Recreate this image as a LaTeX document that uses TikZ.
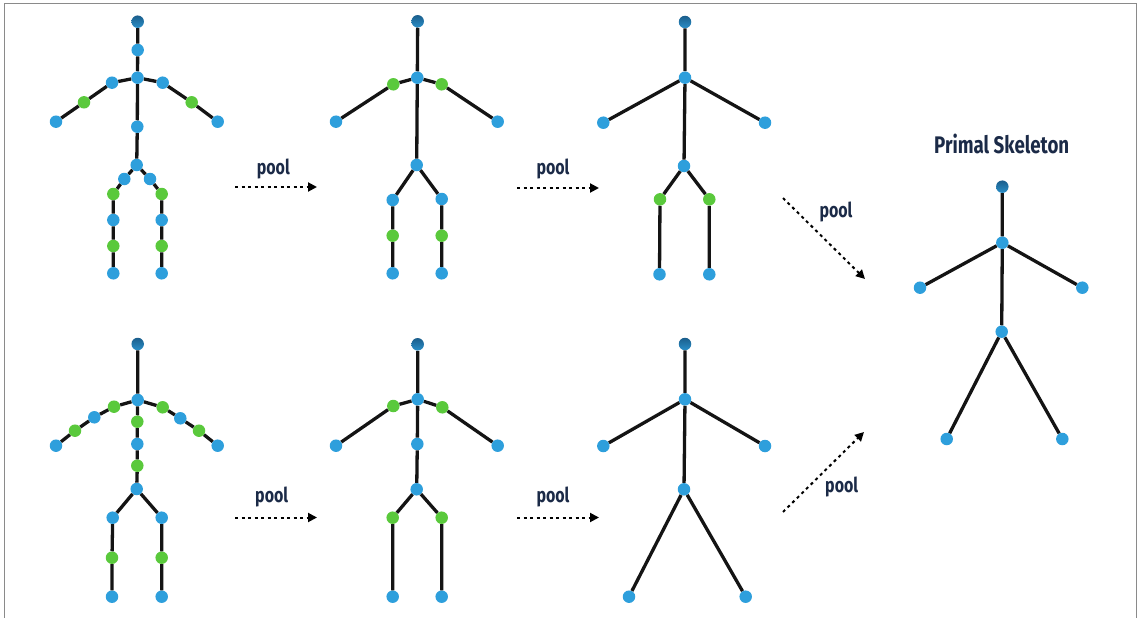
\documentclass[tikz,border=0pt]{standalone}
\usepackage{fontspec}
\usetikzlibrary{arrows.meta}
\newfontfamily\labelfont[FakeStretch=0.78]{Fira Sans}
\definecolor{jointblue}{HTML}{2E9FDC}
\definecolor{jointgreen}{HTML}{5AC93C}
\definecolor{headtop}{HTML}{1B5E8C}
\definecolor{headbot}{HTML}{2A8FC8}
\definecolor{labelnavy}{HTML}{1B2A47}
\definecolor{framegray}{HTML}{8A8A8A}
\tikzset{
  joint/.style={circle, inner sep=0pt, minimum size=12.5pt},
  bj/.style={joint, fill=jointblue},
  gj/.style={joint, fill=jointgreen},
  hj/.style={joint, top color=headtop, bottom color=headbot},
  bone/.style={line width=3.3pt, draw=black!92},
  poolarrow/.style={line width=2pt, dash pattern=on 3pt off 3.5pt, -{Triangle[length=9pt,width=9pt]}},
  poollabel/.style={font=\labelfont\bfseries\fontsize{20.5}{22}\selectfont, text=labelnavy, inner sep=0pt},
}
\newcommand\jnt[4]{\node[#1] (#2) at (#3,#4) {};}
\begin{document}
\begin{tikzpicture}[x=1pt,y=-1pt]
\useasboundingbox (0,0) rectangle (1141,618);
\draw[framegray, line width=1.5pt] (4.5,620) -- (4.5,3.5) -- (1136.5,3.5) -- (1136.5,620);

% ---- skeleton A: full skeleton, top row
\jnt{hj}{A-head}{137.7}{21.7}
\jnt{bj}{A-neck}{137.7}{50}
\jnt{bj}{A-chest}{137.5}{77.7}
\jnt{bj}{A-ls}{112}{82.7}
\jnt{gj}{A-le}{84}{102.3}
\jnt{bj}{A-lh}{56}{121.7}
\jnt{bj}{A-rs}{162.7}{82.7}
\jnt{gj}{A-re}{191.7}{102.3}
\jnt{bj}{A-rh}{217.7}{121.7}
\jnt{bj}{A-sp}{137.3}{126.7}
\jnt{bj}{A-pv}{136.7}{165}
\jnt{bj}{A-lhp}{124.3}{179}
\jnt{gj}{A-lg1}{113.3}{194}
\jnt{bj}{A-lk}{113.3}{220}
\jnt{gj}{A-lg2}{113.3}{246}
\jnt{bj}{A-lf}{113.3}{273.3}
\jnt{bj}{A-rhp}{150}{179}
\jnt{gj}{A-rg1}{161.7}{194}
\jnt{bj}{A-rk}{161.7}{220}
\jnt{gj}{A-rg2}{161.7}{246}
\jnt{bj}{A-rf}{161.7}{273.3}
\draw[bone] (A-head) -- (A-neck) -- (A-chest) -- (A-sp) -- (A-pv);
\draw[bone] (A-chest) -- (A-ls) -- (A-le) -- (A-lh);
\draw[bone] (A-chest) -- (A-rs) -- (A-re) -- (A-rh);
\draw[bone] (A-pv) -- (A-lhp) -- (A-lg1) -- (A-lk) -- (A-lg2) -- (A-lf);
\draw[bone] (A-pv) -- (A-rhp) -- (A-rg1) -- (A-rk) -- (A-rg2) -- (A-rf);

% ---- skeleton B: full skeleton, bottom row
\jnt{hj}{B-head}{137.7}{344}
\jnt{bj}{B-chest}{137.7}{400}
\jnt{gj}{B-lg1}{114}{406.7}
\jnt{bj}{B-lb}{94.3}{417.3}
\jnt{gj}{B-lg2}{75}{430.7}
\jnt{bj}{B-lh}{56}{445.7}
\jnt{gj}{B-rg1}{162.7}{407.3}
\jnt{bj}{B-rb}{180.3}{418.3}
\jnt{gj}{B-rg2}{199}{430.7}
\jnt{bj}{B-rh}{217.7}{445.7}
\jnt{gj}{B-sg1}{137.3}{421.7}
\jnt{bj}{B-sb}{137.3}{444}
\jnt{gj}{B-sg2}{137.3}{465.7}
\jnt{bj}{B-pv}{136.7}{489}
\jnt{bj}{B-lhp}{112.7}{517.7}
\jnt{gj}{B-lkg}{112}{557.7}
\jnt{bj}{B-lf}{112}{596.7}
\jnt{bj}{B-rhp}{161.7}{517.7}
\jnt{gj}{B-rkg}{161.7}{557.7}
\jnt{bj}{B-rf}{161.7}{596.7}
\draw[bone] (B-head) -- (B-chest) -- (B-sg1) -- (B-sb) -- (B-sg2) -- (B-pv);
\draw[bone] (B-chest) -- (B-lg1) -- (B-lb) -- (B-lg2) -- (B-lh);
\draw[bone] (B-chest) -- (B-rg1) -- (B-rb) -- (B-rg2) -- (B-rh);
\draw[bone] (B-pv) -- (B-lhp) -- (B-lkg) -- (B-lf);
\draw[bone] (B-pv) -- (B-rhp) -- (B-rkg) -- (B-rf);

% ---- skeleton C: after first pooling, top row
\jnt{hj}{C-head}{417.7}{21.3}
\jnt{bj}{C-chest}{417.3}{77.7}
\jnt{gj}{C-lg}{393.3}{84.3}
\jnt{bj}{C-lh}{336}{121.7}
\jnt{gj}{C-rg}{441.7}{84.3}
\jnt{bj}{C-rh}{497.7}{121.7}
\jnt{bj}{C-pv}{416.7}{165}
\jnt{bj}{C-lhp}{392.7}{200}
\jnt{gj}{C-lkg}{392.7}{235.7}
\jnt{bj}{C-lf}{392.7}{273.3}
\jnt{bj}{C-rhp}{441.7}{199}
\jnt{gj}{C-rkg}{441.7}{235.7}
\jnt{bj}{C-rf}{441.7}{273.3}
\draw[bone] (C-head) -- (C-chest) -- (C-pv);
\draw[bone] (C-chest) -- (C-lg) -- (C-lh);
\draw[bone] (C-chest) -- (C-rg) -- (C-rh);
\draw[bone] (C-pv) -- (C-lhp) -- (C-lkg) -- (C-lf);
\draw[bone] (C-pv) -- (C-rhp) -- (C-rkg) -- (C-rf);

% ---- skeleton D: after first pooling, bottom row
\jnt{hj}{D-head}{417.7}{344.3}
\jnt{bj}{D-chest}{417.7}{399.3}
\jnt{gj}{D-lg}{393.3}{406}
\jnt{bj}{D-lh}{336}{445.7}
\jnt{gj}{D-rg}{442.3}{407.3}
\jnt{bj}{D-rh}{497.7}{445.7}
\jnt{bj}{D-sp}{417.3}{444}
\jnt{bj}{D-pv}{416.7}{489.3}
\jnt{gj}{D-lhg}{392.7}{517.7}
\jnt{bj}{D-lf}{392.7}{596.7}
\jnt{gj}{D-rhg}{441.7}{517.7}
\jnt{bj}{D-rf}{441.7}{596.7}
\draw[bone] (D-head) -- (D-chest) -- (D-sp) -- (D-pv);
\draw[bone] (D-chest) -- (D-lg) -- (D-lh);
\draw[bone] (D-chest) -- (D-rg) -- (D-rh);
\draw[bone] (D-pv) -- (D-lhg) -- (D-lf);
\draw[bone] (D-pv) -- (D-rhg) -- (D-rf);

% ---- skeleton E: after second pooling, top row
\jnt{hj}{E-head}{685}{22}
\jnt{bj}{E-chest}{685}{77.7}
\jnt{bj}{E-lh}{603.3}{122.7}
\jnt{bj}{E-rh}{765}{122.7}
\jnt{bj}{E-pv}{684}{166}
\jnt{gj}{E-lhg}{660}{199.3}
\jnt{bj}{E-lf}{659.5}{274.3}
\jnt{gj}{E-rhg}{709.3}{199.3}
\jnt{bj}{E-rf}{709.3}{274.3}
\draw[bone] (E-head) -- (E-chest) -- (E-pv);
\draw[bone] (E-chest) -- (E-lh);
\draw[bone] (E-chest) -- (E-rh);
\draw[bone] (E-pv) -- (E-lhg) -- (E-lf);
\draw[bone] (E-pv) -- (E-rhg) -- (E-rf);

% ---- skeleton F: after second pooling, bottom row
\jnt{hj}{F-head}{685}{344}
\jnt{bj}{F-chest}{685}{399.3}
\jnt{bj}{F-lh}{603.3}{446}
\jnt{bj}{F-rh}{765}{446}
\jnt{bj}{F-pv}{684}{489.3}
\jnt{bj}{F-lf}{629}{596.7}
\jnt{bj}{F-rf}{745.7}{596.7}
\draw[bone] (F-head) -- (F-chest) -- (F-pv);
\draw[bone] (F-chest) -- (F-lh);
\draw[bone] (F-chest) -- (F-rh);
\draw[bone] (F-pv) -- (F-lf);
\draw[bone] (F-pv) -- (F-rf);

% ---- primal skeleton
\node[poollabel, font=\labelfont\bfseries\fontsize{24}{26}\selectfont] (G-title) at (1001.7,144) {Primal Skeleton};
\jnt{hj}{G-head}{1002.3}{186.7}
\jnt{bj}{G-chest}{1002.3}{242.7}
\jnt{bj}{G-lh}{920}{287.7}
\jnt{bj}{G-rh}{1082.3}{287.7}
\jnt{bj}{G-pv}{1001.7}{331.7}
\jnt{bj}{G-lf}{946.7}{439}
\jnt{bj}{G-rf}{1062.3}{439}
\draw[bone] (G-head) -- (G-chest) -- (G-pv);
\draw[bone] (G-chest) -- (G-lh);
\draw[bone] (G-chest) -- (G-rh);
\draw[bone] (G-pv) -- (G-lf);
\draw[bone] (G-pv) -- (G-rf);

% ---- pooling arrows and labels
\coordinate (p1s) at (235,187);   \coordinate (p1e) at (317,187);
\coordinate (p2s) at (517,188);   \coordinate (p2e) at (599,188);
\coordinate (p3s) at (235,517.5); \coordinate (p3e) at (317,517.5);
\coordinate (p4s) at (517,517.5); \coordinate (p4e) at (599,517.5);
\coordinate (p5s) at (783,198);   \coordinate (p5e) at (865,279);
\coordinate (p6s) at (783,512);   \coordinate (p6e) at (864,432);
\draw[poolarrow] (p1s) -- (p1e);
\draw[poolarrow] (p2s) -- (p2e);
\draw[poolarrow] (p3s) -- (p3e);
\draw[poolarrow] (p4s) -- (p4e);
\draw[poolarrow] (p5s) -- (p5e);
\draw[poolarrow] (p6s) -- (p6e);
\node[poollabel] (l1) at (273.3,168.5) {pool};
\node[poollabel] (l2) at (553,168.5) {pool};
\node[poollabel] (l3) at (271.7,496.5) {pool};
\node[poollabel] (l4) at (553,496.5) {pool};
\node[poollabel] (l5) at (836,211.5) {pool};
\node[poollabel] (l6) at (841.7,486.5) {pool};
\end{tikzpicture}
\end{document}
